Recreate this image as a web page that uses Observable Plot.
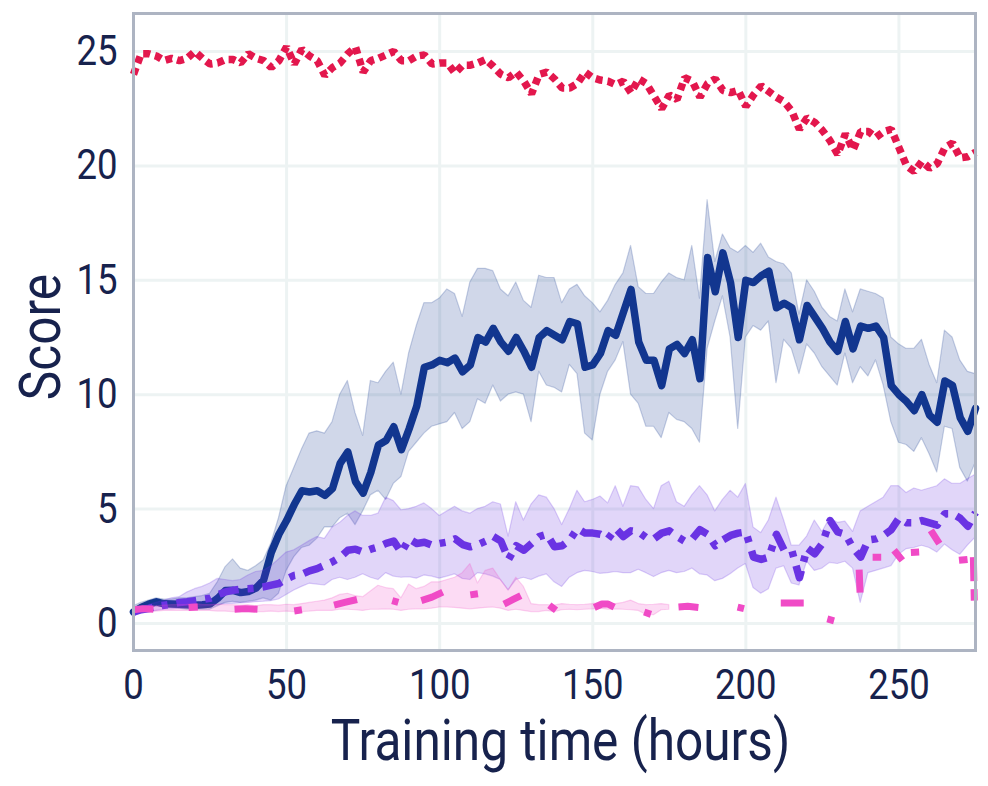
<!DOCTYPE html>
<html><head><meta charset="utf-8">
<script src="https://cdn.jsdelivr.net/npm/d3@7"></script>
<script src="https://cdn.jsdelivr.net/npm/@observablehq/plot@0.6"></script>
<style>
body{margin:0;background:#fff;}
#chart{width:988px;height:786px;}
</style></head><body><div id="chart"></div>
<script>
const hours = [0,2.5,5,7.5,10,12.5,15,17.5,20,22.5,
25,27.5,30,32.5,35,37.5,40,42.5,45,47.5,
50,52.5,55,57.5,60,62.5,65,67.5,70,72.5,
75,77.5,80,82.5,85,87.5,90,92.5,95,97.5,
100,102.5,105,107.5,110,112.5,115,117.5,120,122.5,
125,127.5,130,132.5,135,137.5,140,142.5,145,147.5,
150,152.5,155,157.5,160,162.5,165,167.5,170,172.5,
175,177.5,180,182.5,185,187.5,190,192.5,195,197.5,
200,202.5,205,207.5,210,212.5,215,217.5,220,222.5,
225,227.5,230,232.5,235,237.5,240,242.5,245,247.5,
250,252.5,255,257.5,260,262.5,265,267.5,270,272.5,
275];

const redScore = [24.0,24.9,24.9,24.8,24.6,24.7,24.6,24.7,25.0,24.7,
24.45,24.5,24.65,24.65,24.5,24.9,24.7,24.6,24.3,24.6,
25.2,24.45,25.1,24.8,24.6,23.95,24.3,24.5,24.9,25.2,
24.1,24.6,24.7,24.85,25.0,24.6,24.6,24.8,24.85,24.45,
24.5,24.5,24.05,24.4,24.4,24.5,24.65,24.35,24.0,23.85,
24.1,23.7,23.15,24.0,24.1,23.8,23.4,23.4,23.6,24.1,
23.85,23.75,23.7,23.55,23.7,23.2,23.8,23.6,23.05,22.5,
23.1,22.9,23.85,23.7,23.0,23.6,23.8,23.3,23.2,23.3,
22.6,23.1,23.5,23.25,23.0,22.8,22.4,21.6,22.1,21.9,
21.55,21.1,20.5,21.4,20.7,21.5,21.5,21.25,21.5,21.6,
20.8,20.0,19.75,20.2,19.9,20.1,20.8,21.0,20.35,20.4,
20.6];

const blueMean = [0.5,0.7,0.85,0.95,0.86,0.85,0.84,0.82,0.8,0.82,
0.85,1.1,1.44,1.45,1.35,1.4,1.55,1.9,3.1,3.9,
4.5,5.2,5.8,5.75,5.8,5.6,5.9,7.0,7.5,6.2,
5.7,6.6,7.8,8.0,8.6,7.6,8.5,9.5,11.2,11.3,
11.5,11.4,11.6,11.0,11.3,12.5,12.3,12.9,12.3,11.9,
12.5,11.9,11.2,12.5,12.8,12.6,12.4,13.2,13.1,11.2,
11.3,11.8,12.8,12.6,13.6,14.6,12.3,11.5,11.5,10.4,
12.0,12.2,11.8,12.4,10.7,16.0,14.5,16.2,14.9,12.5,
15.0,14.9,15.2,15.4,13.8,14.0,13.8,12.4,13.9,13.4,
12.9,12.3,11.9,13.2,12.0,13.0,12.9,13.0,12.5,10.4,
10.0,9.7,9.3,10.0,9.1,8.8,10.6,10.4,9.0,8.4,
9.4];

const blueUpper = [0.75,0.9,1.0,1.1,1.05,1.05,1.1,1.1,1.15,1.2,
1.3,1.8,2.45,2.8,2.4,2.3,2.5,2.75,3.5,4.6,
6.0,6.8,7.6,8.3,8.4,8.3,8.8,10.0,10.6,9.2,
8.2,10.6,10.5,11.0,11.4,10.0,11.8,13.0,14.0,14.0,
14.2,14.6,14.4,13.4,14.9,15.5,15.5,15.4,14.6,14.3,
14.9,14.1,13.8,15.2,15.1,15.1,14.0,14.6,14.8,14.3,
14.0,13.6,14.1,14.8,15.3,16.5,14.7,14.4,14.4,14.9,
15.3,15.1,15.0,16.5,14.2,18.5,15.8,17.0,16.4,16.2,
16.5,16.2,16.6,16.0,15.8,15.7,15.3,13.5,15.0,14.5,
13.8,13.4,13.2,14.6,13.6,14.6,14.5,14.4,14.2,12.5,
12.2,12.0,12.0,12.4,11.3,10.5,12.8,12.5,11.5,11.0,
10.9];

const blueLower = [0.4,0.5,0.65,0.75,0.7,0.7,0.65,0.6,0.6,0.6,
0.6,0.75,0.9,0.95,0.9,0.95,1.0,1.1,1.0,1.3,
2.3,2.9,3.3,3.4,3.7,4.2,4.2,4.6,4.8,4.3,
4.9,5.6,5.8,5.4,6.1,6.4,7.5,7.9,8.3,8.6,
8.7,8.8,9.2,8.5,8.8,9.8,9.6,10.4,9.7,10.0,
10.1,10.0,8.8,11.0,10.4,10.3,10.1,11.3,10.9,8.3,
8.0,10.0,11.0,11.5,12.3,10.0,9.6,8.6,8.6,8.1,
9.2,8.9,8.8,8.5,7.9,12.0,13.2,14.3,12.5,8.5,
12.5,13.0,12.8,13.2,10.5,12.4,12.0,10.9,12.2,11.8,
11.2,10.8,10.4,11.8,10.5,11.2,10.8,11.5,10.4,8.8,
7.9,7.8,7.5,8.1,7.4,6.6,8.6,8.5,6.8,6.2,
7.0];

const purpleMean = [0.5,0.6,0.65,0.75,0.8,0.85,0.92,0.95,1.0,1.05,
1.1,1.25,1.38,1.45,1.5,1.52,1.55,1.6,1.68,1.75,
1.95,2.1,2.15,2.3,2.4,2.55,2.7,2.9,3.2,3.25,
3.12,3.25,3.35,3.5,3.6,3.1,3.7,3.5,3.55,3.42,
3.5,3.56,3.7,3.45,3.35,3.45,3.6,3.8,3.6,2.8,
3.4,3.2,3.5,3.8,3.9,3.35,3.4,3.65,4.15,3.95,
3.95,3.9,3.7,4.15,3.8,4.05,4.0,3.75,3.7,3.95,
4.05,3.8,3.6,3.7,4.1,3.9,3.4,3.65,3.85,3.95,
4.0,2.9,2.8,2.9,3.9,3.2,3.2,2.0,3.3,3.05,
3.5,4.5,4.0,3.9,3.3,2.9,3.65,3.7,3.85,4.1,
4.6,4.4,4.4,4.5,4.4,4.3,4.8,4.8,4.6,4.25,
4.85];

const purpleUpper = [0.6,0.7,0.8,0.9,1.0,1.1,1.15,1.35,1.5,1.6,
1.75,1.95,1.9,1.85,1.9,2.1,2.25,2.3,2.5,2.8,
3.1,3.2,3.4,3.6,3.78,3.7,4.2,4.4,4.7,4.9,
4.7,4.7,4.8,5.5,5.35,4.95,5.0,5.1,5.25,5.0,
4.7,4.9,5.1,4.9,4.8,5.0,5.1,5.3,5.2,3.8,
5.3,4.5,5.2,5.6,5.5,5.0,4.3,5.0,5.8,5.3,
5.4,5.55,5.25,6.0,5.1,6.0,5.95,5.4,5.0,6.0,
6.2,5.3,5.1,5.6,6.0,5.6,4.9,5.4,5.8,5.5,
6.1,4.2,3.95,4.5,5.5,4.5,3.4,3.4,3.8,4.5,
4.0,4.6,4.4,4.45,4.0,4.9,5.1,5.3,5.5,6.0,
6.0,5.7,5.9,5.8,5.9,6.0,6.3,6.1,6.1,6.3,
6.5];

const purpleLower = [0.4,0.45,0.5,0.55,0.6,0.62,0.65,0.68,0.7,0.75,
0.78,0.8,0.85,0.86,0.88,0.9,0.93,0.95,0.98,1.05,
1.25,1.44,1.6,1.74,1.7,1.66,1.9,2.0,1.9,2.0,
2.15,2.0,1.9,2.2,2.05,2.0,2.03,1.96,2.1,2.05,
1.96,2.05,2.15,1.95,1.9,2.2,2.15,2.05,1.9,1.45,
1.9,2.0,1.9,2.05,2.15,1.8,1.6,2.0,2.2,2.3,
2.25,2.17,2.2,2.25,2.2,2.2,2.35,2.2,2.03,2.2,
2.3,2.2,2.25,2.4,2.15,2.1,1.85,1.95,2.15,2.4,
2.6,1.55,1.3,1.5,2.4,2.5,1.75,1.66,2.7,2.3,
2.4,2.65,2.6,2.7,2.4,0.9,2.2,2.3,2.4,2.5,
3.0,3.25,3.3,3.4,3.3,3.1,3.45,3.2,3.0,3.4,
3.75];

const pinkUpper = [0.7,0.72,0.75,0.75,0.78,0.8,0.8,0.82,0.85,0.82,
0.8,0.82,0.8,0.8,0.78,0.8,0.75,0.8,0.8,0.78,
0.82,0.8,0.85,0.9,0.95,1.0,1.1,1.25,1.3,1.2,
1.15,1.4,1.65,1.55,1.5,1.1,1.7,1.5,1.6,1.8,
1.8,1.9,2.0,2.2,2.6,1.75,2.3,2.4,1.9,1.45,
2.0,1.6,0.85,0.8,0.8,0.78,0.85,0.82,0.8,0.82,
0.85,0.9,0.85,0.85,0.9,1.0,0.85,0.8,0.82,0.85,
0.8,null,null,null,null,null,null,null,null,null,
null,null,null,null,null,null,null,null,null,null,
null,null,null,null,null,null,null,null,null,null,
null,null,null,null,null,null,null,null,null,null,
null];

const pinkLower = [0.5,0.5,0.52,0.52,0.55,0.55,0.55,0.55,0.55,0.55,
0.55,0.52,0.52,0.5,0.5,0.5,0.5,0.5,0.52,0.5,
0.52,0.5,0.5,0.52,0.55,0.55,0.55,0.6,0.6,0.58,
0.55,0.6,0.6,0.62,0.6,0.55,0.6,0.62,0.62,0.65,
0.7,0.7,0.68,0.65,0.62,0.65,0.68,0.7,0.65,0.55,
0.6,0.55,0.5,0.5,0.55,0.5,0.58,0.6,0.58,0.6,
0.62,0.65,0.6,0.62,0.6,0.58,0.55,0.38,0.36,0.58,
0.6,null,null,null,null,null,null,null,null,null,
null,null,null,null,null,null,null,null,null,null,
null,null,null,null,null,null,null,null,null,null,
null,null,null,null,null,null,null,null,null,null,
null];

// pink mean is broken into short pieces (missing evaluations are null)
const pinkHours = [0,3,6.5,12, 18,21,27, 33,36.5,40.5,46, 52.5,55,60, 65.5,69,73,79, 84.5,86.5,90,
94,97.5,101,105, 110,112.5,117, 121,124,126.5,131, 135.8,138,144, 150.5,153,155,157,162,
166.8,169,173, 178,181,184.5,190, 197.3,199.4,205, 211.4,218.9,222, 226.6,228.8,233, 237,237.3,239,
241.4,244.2,246, 248.4,251.1,252.5, 253.9,256.6,258, 260.4,263.2,266, 269.6,272.4,273.5, 274.3,274.6];
const pinkScore = [0.6,0.65,0.62,null, 0.7,0.72,null, 0.62,0.65,0.62,null, 0.55,0.6,null, 0.8,0.92,1.05,null, 1.0,0.92,null,
1.0,1.15,1.37,null, 1.25,1.3,null, 0.85,1.05,1.22,null, 0.8,0.58,null, 0.7,0.85,0.85,0.72,null,
0.5,0.4,null, 0.72,0.75,0.7,null, 0.72,0.65,null, 0.9,0.9,null, 0.2,0.12,null, 2.35,1.35,null,
2.9,2.9,null, 3.2,2.76,null, 3.1,3.12,null, 4.07,3.49,null, 2.76,2.8,null, 2.9,1.0];

const xTicks = [0,50,100,150,200,250];
const yTicks = [0,5,10,15,20,25];

const colors = {red:"#e3174d", blue:"#12368f", purple:"#6a33e3", pink:"#f04bc6"};

const rows = hours.map((h,i)=>({h,
  red:redScore[i], bm:blueMean[i], bl:blueLower[i], bu:blueUpper[i],
  pm:purpleMean[i], pl:purpleLower[i], pu:purpleUpper[i],
  kl:pinkLower[i], ku:pinkUpper[i]}));
const pinkRows = pinkHours.map((h,i)=>({h, v:pinkScore[i]}));

const chart = Plot.plot({
  width:988, height:786,
  marginLeft:133, marginRight:13, marginTop:13, marginBottom:136,
  style:{fontFamily:"Roboto, sans-serif", color:"#17224d", background:"#ffffff", overflow:"visible"},
  x:{domain:[0,275]},
  y:{domain:[-1.18,26.66]},
  marks:[
    Plot.gridX(xTicks,{stroke:"#edf3f3", strokeOpacity:1, strokeWidth:3}),
    Plot.gridY(yTicks,{stroke:"#edf3f3", strokeOpacity:1, strokeWidth:3}),
    Plot.line(rows,{x:"h", y:"red", stroke:colors.red, strokeWidth:7.5, strokeLinecap:"butt", strokeLinejoin:"miter", strokeDasharray:"7,5"}),
    Plot.areaY(rows,{x:"h", y1:"bl", y2:"bu", fill:colors.blue, fillOpacity:0.2, stroke:colors.blue, strokeOpacity:0.22, strokeWidth:1.2}),
    Plot.line(rows,{x:"h", y:"bm", stroke:colors.blue, strokeWidth:7.5}),
    Plot.areaY(rows,{x:"h", y1:"pl", y2:"pu", fill:colors.purple, fillOpacity:0.2, stroke:colors.purple, strokeOpacity:0.22, strokeWidth:1.2}),
    Plot.line(rows,{x:"h", y:"pm", stroke:colors.purple, strokeWidth:7.5, strokeLinecap:"butt", strokeDasharray:"20,9,6,9"}),
    Plot.areaY(rows,{x:"h", y1:"kl", y2:"ku", fill:colors.pink, fillOpacity:0.2, stroke:colors.pink, strokeOpacity:0.22, strokeWidth:1.2}),
    Plot.line(pinkRows,{x:"h", y:"v", stroke:colors.pink, strokeWidth:7, strokeLinecap:"butt", strokeDasharray:"24,8"}),
    Plot.axisX(xTicks,{tickSize:0, tickPadding:19, fontSize:42, label:null}),
    Plot.axisY(yTicks,{tickSize:0, tickPadding:16, fontSize:42, label:null}),
    Plot.text(["Training time (hours)"],{frameAnchor:"bottom", textAnchor:"middle", lineAnchor:"middle", dx:6, dy:91, fontSize:57}),
    Plot.text(["Score"],{frameAnchor:"left", textAnchor:"middle", lineAnchor:"middle", dx:-92, dy:5, rotate:-90, fontSize:57}),
    Plot.frame({stroke:"#adb4c2", strokeWidth:3})
  ]
});

// condense the lettering (reference uses a narrow face)
chart.querySelectorAll("text").forEach(t=>{
  const tr = t.getAttribute("transform") || "";
  const x = parseFloat(t.getAttribute("x") || 0) || 0;
  t.setAttribute("transform", `${tr} translate(${x},0) scale(0.87,1) translate(${-x},0)`);
});

document.getElementById("chart").appendChild(chart);
</script></body></html>
